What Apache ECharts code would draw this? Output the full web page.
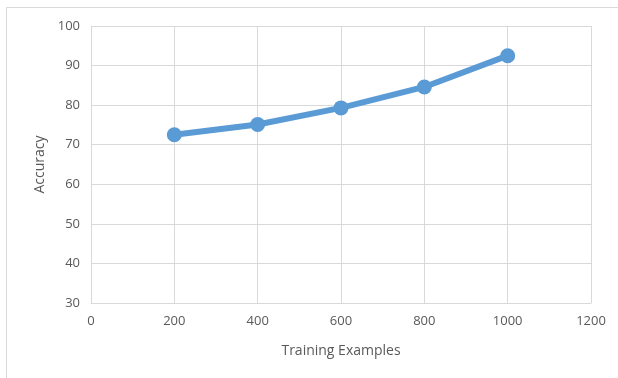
<!DOCTYPE html>
<html>
<head>
<meta charset="utf-8">
<script src="https://cdn.jsdelivr.net/npm/echarts@6/dist/echarts.min.js"></script>
<style>
  html, body { margin: 0; padding: 0; background: #ffffff; }
  #chart { width: 618px; height: 378px; }
</style>
</head>
<body>
<div id="chart"></div>
<script>
// Accuracy versus number of training examples
const trainingExamples = [200, 400, 600, 800, 1000];
const accuracy = [72.5, 75.1, 79.3, 84.6, 92.5];

const xTicks = { min: 0, max: 1200, interval: 200 };
const yTicks = { min: 30, max: 100, interval: 10 };

const gridColor = '#d9d9d9';
const textColor = '#595959';
const lineColor = '#5b9bd5';
const fontFamily = 'Open Sans, Liberation Sans, sans-serif';

const chart = echarts.init(document.getElementById('chart'), null, { renderer: 'canvas' });

chart.setOption({
  animation: false,
  backgroundColor: '#ffffff',
  graphic: [
    {
      type: 'polyline',
      shape: { points: [[6.5, 378], [6.5, 7.5], [618, 7.5]] },
      style: { stroke: '#d9d9d9', lineWidth: 1, fill: null },
      silent: true
    }
  ],
  grid: { left: 91, right: 27, top: 26, bottom: 75 },
  xAxis: {
    type: 'value',
    min: xTicks.min,
    max: xTicks.max,
    interval: xTicks.interval,
    name: 'Training Examples',
    nameLocation: 'middle',
    nameGap: 41,
    nameTextStyle: { color: textColor, fontSize: 14, fontFamily: fontFamily },
    axisLine: { show: true, lineStyle: { color: gridColor, width: 1 } },
    axisTick: { show: false },
    axisLabel: { color: textColor, fontSize: 13, fontFamily: fontFamily, margin: 12,
                 formatter: v => String(v) },
    splitLine: { show: true, lineStyle: { color: gridColor, width: 1 } }
  },
  yAxis: {
    type: 'value',
    min: yTicks.min,
    max: yTicks.max,
    interval: yTicks.interval,
    name: 'Accuracy',
    nameLocation: 'middle',
    nameGap: 44,
    nameTextStyle: { color: textColor, fontSize: 14, fontFamily: fontFamily },
    axisLine: { show: true, lineStyle: { color: gridColor, width: 1 } },
    axisTick: { show: false },
    axisLabel: { color: textColor, fontSize: 13, fontFamily: fontFamily, margin: 11,
                 formatter: v => String(v) },
    splitLine: { show: true, lineStyle: { color: gridColor, width: 1 } }
  },
  series: [
    {
      type: 'line',
      data: trainingExamples.map((x, i) => [x, accuracy[i]]),
      symbol: 'circle',
      symbolSize: 15,
      lineStyle: { color: lineColor, width: 6 },
      itemStyle: { color: lineColor },
      z: 3
    }
  ]
});
</script>
</body>
</html>
